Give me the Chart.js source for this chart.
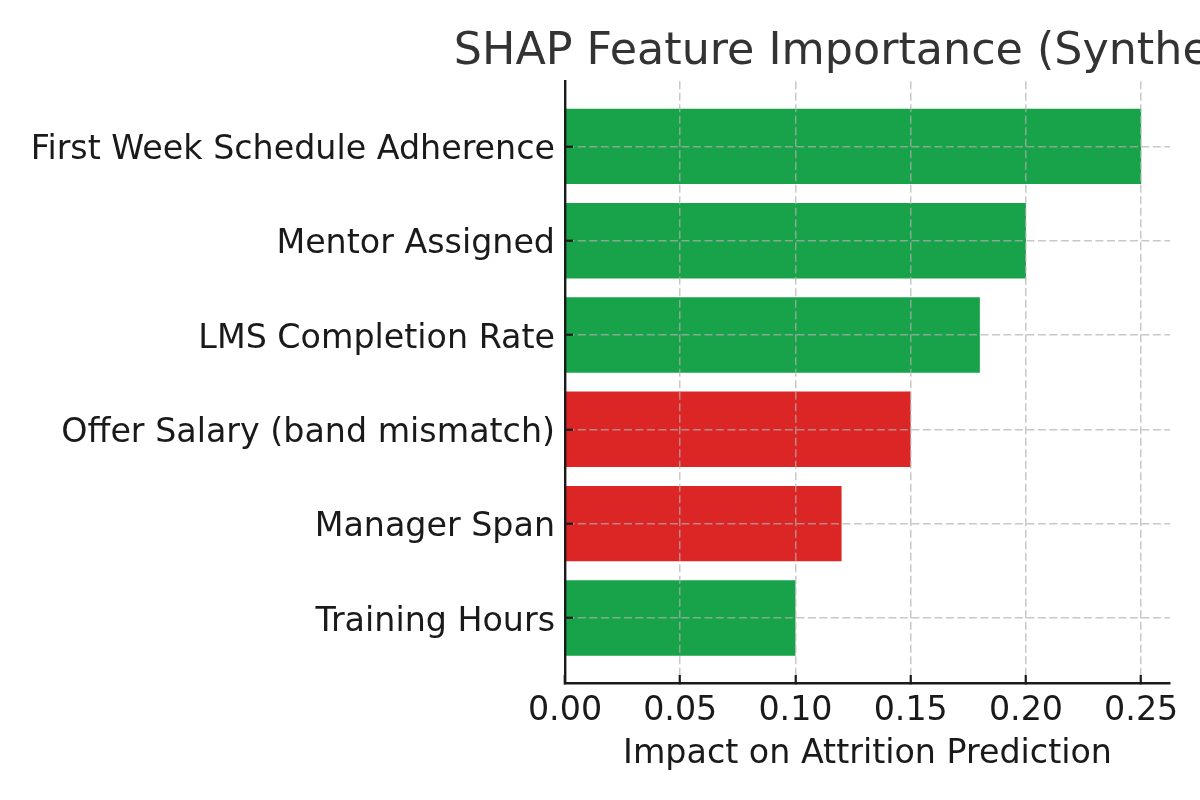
<!DOCTYPE html>
<html>
<head>
<meta charset="utf-8">
<script src="https://cdn.jsdelivr.net/npm/chart.js@4.4.1/dist/chart.umd.min.js"></script>
<style>
html,body{margin:0;padding:0;background:#fff;overflow:hidden;}
#wrap{width:1200px;height:800px;position:relative;overflow:hidden;}
</style>
</head>
<body>
<div id="wrap"><canvas id="c" width="1735" height="800"></canvas></div>
<script>
const categories = ["First Week Schedule Adherence","Mentor Assigned","LMS Completion Rate","Offer Salary (band mismatch)","Manager Span","Training Hours"];
const shapValues = [0.25, 0.20, 0.18, 0.15, 0.12, 0.10];
const barColors = ["#18a34a","#18a34a","#18a34a","#dc2626","#dc2626","#18a34a"];
const xTickValues = [0.00, 0.05, 0.10, 0.15, 0.20, 0.25];
const titleText = "SHAP Feature Importance (Synthetic)";
const xTitleText = "Impact on Attrition Prediction";

const FONT = "'DejaVu Sans', sans-serif";
const gridColor = "rgba(176,176,176,0.7)";
const axisColor = "#1a1a1a";

const points = shapValues.map((v, i) => ({x: v, y: i}));

new Chart(document.getElementById('c'), {
  type: 'bar',
  data: {
    datasets: [{
      data: points,
      backgroundColor: barColors,
      borderWidth: 0,
      categoryPercentage: 1.0,
      barPercentage: 0.8,
      xAxisID: 'x',
      yAxisID: 'y'
    }]
  },
  options: {
    indexAxis: 'y',
    responsive: false,
    maintainAspectRatio: false,
    animation: false,
    layout: {padding: {left: 0, right: 0, top: 25.5, bottom: 0}},
    plugins: {
      legend: {display: false},
      tooltip: {enabled: false},
      title: {
        display: true,
        text: titleText,
        fullSize: true,
        color: '#333333',
        font: {family: FONT, size: 44.4, weight: 'normal', lineHeight: 1.2},
        padding: {top: 0, bottom: 2.5}
      }
    },
    scales: {
      x: {
        type: 'linear',
        position: 'bottom',
        min: 0,
        max: 0.2625,
        afterBuildTicks: (s) => { s.ticks = xTickValues.map(v => ({value: v})); },
        afterFit: (s) => { s.height = 117; },
        grid: {
          z: 1,
          color: gridColor,
          lineWidth: 1.5,
          drawTicks: true,
          tickLength: -8,
          tickColor: axisColor,
          tickWidth: 2.2,
          tickBorderDash: [],
          offset: false
        },
        border: {z: 2, display: true, color: axisColor, width: 2.4, dash: [8, 3.5]},
        ticks: {
          z: 2,
          color: axisColor,
          padding: 16,
          maxRotation: 0,
          autoSkip: false,
          font: {family: FONT, size: 33.3},
          callback: (v) => Number(v).toFixed(2)
        },
        title: {
          display: true,
          text: xTitleText,
          color: axisColor,
          font: {family: FONT, size: 33.3, lineHeight: 1.2},
          padding: {top: 0, bottom: 26}
        }
      },
      y: {
        type: 'linear',
        position: 'left',
        reverse: true,
        offset: false,
        min: -0.69,
        max: 5.69,
        afterBuildTicks: (s) => { s.ticks = categories.map((c, i) => ({value: i})); },
        afterFit: (s) => { s.width = 565; },
        grid: {
          z: 1,
          color: gridColor,
          lineWidth: 1.5,
          drawTicks: true,
          tickLength: -8,
          tickColor: axisColor,
          tickWidth: 2.2,
          tickBorderDash: [],
          offset: false
        },
        border: {z: 2, display: true, color: axisColor, width: 2.4, dash: [8, 3.5]},
        ticks: {
          z: 2,
          color: axisColor,
          padding: 18,
          labelOffset: 4,
          autoSkip: false,
          font: {family: FONT, size: 33.3},
          callback: (v) => categories[Math.round(v)]
        }
      },
      ySpacer: {
        type: 'linear',
        position: 'right',
        display: true,
        afterFit: (s) => { s.width = 565; },
        grid: {display: false, drawTicks: false},
        border: {display: false},
        ticks: {display: false}
      }
    }
  }
});
</script>
</body>
</html>
